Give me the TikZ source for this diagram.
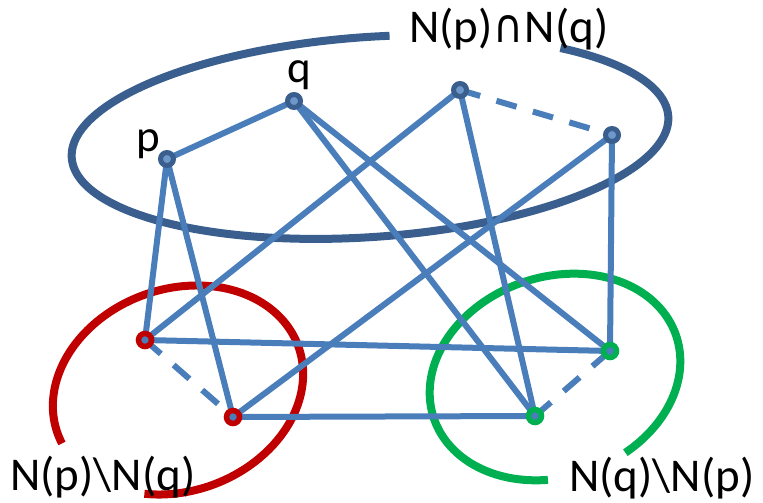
\documentclass[tikz,border=0pt]{standalone}
\usepackage{fontspec}
\usepackage{graphicx}
\setmainfont{Carlito}
\newfontfamily\djv{DejaVu Sans}
\definecolor{edgeblue}{HTML}{4A7EBB}
\definecolor{ellblue}{HTML}{3A5F8F}
\definecolor{setred}{HTML}{C00000}
\definecolor{setgreen}{HTML}{00B050}
\tikzset{
  edge/.style={draw=edgeblue, line width=6pt},
  dashedge/.style={edge, dash pattern=on 21pt off 17pt},
  ellarc/.style={line width=8pt},
  topv/.style={circle, draw=ellblue, fill=edgeblue!80!white, line width=5pt, minimum size=13pt, inner sep=0pt},
  redv/.style={circle, draw=setred, fill=edgeblue, line width=5.5pt, minimum size=13pt, inner sep=0pt},
  greenv/.style={circle, draw=setgreen, fill=edgeblue, line width=5.5pt, minimum size=13pt, inner sep=0pt},
  lbl/.style={inner sep=0pt, anchor=base west, text=black, font=\fontsize{47}{47}\selectfont},
  vlbl/.style={inner sep=0pt, anchor=base west, text=black, font=\fontsize{45}{45}\selectfont},
}
\begin{document}
\begin{tikzpicture}[x=1pt,y=-1pt]
\useasboundingbox (0,0) rectangle (763,503);
% set outlines
\draw[ellarc, draw=ellblue] plot[domain=-49:275.1, samples=220, variable=\t]
  ({370 + 299*cos(\t)*cos(4) + 100*sin(\t)*sin(4)}, {137 - 299*cos(\t)*sin(4) + 100*sin(\t)*cos(4)});
\draw[ellarc, draw=setred] plot[domain=174:481.6, samples=160, variable=\t]
  ({178 + 128*cos(\t)*cos(20) + 101*sin(\t)*sin(20)}, {390 - 128*cos(\t)*sin(20) + 101*sin(\t)*cos(20)});
\draw[ellarc, draw=setgreen] plot[domain=108.3:430.9, samples=160, variable=\t]
  ({555 + 128*cos(\t)*cos(19) + 100*sin(\t)*sin(19)}, {377 - 128*cos(\t)*sin(19) + 100*sin(\t)*cos(19)});
% vertex positions
\coordinate (cp) at (167,159);
\coordinate (cq) at (294,101);
\coordinate (ca) at (460,90);
\coordinate (cb) at (612,135);
\coordinate (cr1) at (145,340);
\coordinate (cr2) at (233,417);
\coordinate (cg1) at (610,351);
\coordinate (cg2) at (535,416);
% edges
\draw[edge] (cp) -- (cq);
\draw[edge] (cp) -- (cr1);
\draw[edge] (cp) -- (cr2);
\draw[edge] (cq) -- (cg2);
\draw[edge] (cq) -- (cg1);
\draw[edge] (ca) -- (cr1);
\draw[edge] (ca) -- (cg2);
\draw[edge] (cb) -- (cr2);
\draw[edge] (cb) -- (cg1);
\draw[edge] (cr1) -- (cg1);
\draw[edge] (cr2) -- (cg2);
\draw[dashedge] (ca) -- (cb);
\draw[dashedge] (cr1) -- (cr2);
\draw[dashedge] (cg2) -- (cg1);
% vertices
\node[topv] (p) at (cp) {};
\node[topv] (q) at (cq) {};
\node[topv] (a) at (ca) {};
\node[topv] (b) at (cb) {};
\node[redv] (r1) at (cr1) {};
\node[redv] (r2) at (cr2) {};
\node[greenv] (g1) at (cg1) {};
\node[greenv] (g2) at (cg2) {};
% labels
\node[vlbl] (lp) at (136,151) {p};
\node[vlbl] (lq) at (287,82) {q};
\node[lbl] (ltop) at (409,43) {N(p)\kern1pt\resizebox{30pt}{27pt}{\djv ∩}\kern1pt N(q)};
\node[lbl] (lred) at (10,490) {N(p)\textbackslash N(q)};
\node[lbl] (lgreen) at (569,491) {N(q)\textbackslash N(p)};
\end{tikzpicture}
\end{document}
